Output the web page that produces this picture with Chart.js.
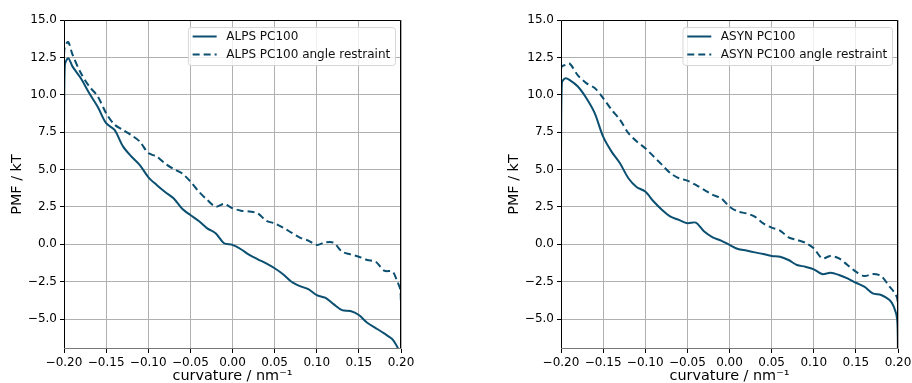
<!DOCTYPE html>
<html>
<head>
<meta charset="utf-8">
<script src="https://cdn.jsdelivr.net/npm/chart.js@4.4.1/dist/chart.umd.min.js"></script>
<style>
  html, body { margin: 0; padding: 0; background: #fff; }
  #wrap { position: relative; width: 912px; height: 383px; }
  #wrap canvas { position: absolute; left: 0; top: 0; }
</style>
</head>
<body>
<div id="wrap">
  <canvas id="alps" width="912" height="383"></canvas>
  <canvas id="asyn" width="912" height="383"></canvas>
</div>
<script>
// curvature grid (nm^-1)
const curvature = [-0.2, -0.199, -0.195, -0.19, -0.18, -0.17, -0.16, -0.15, -0.14, -0.13, -0.12, -0.11,
  -0.10, -0.09, -0.08, -0.07, -0.06, -0.05, -0.04, -0.03, -0.02, -0.01, 0.00,
  0.01, 0.02, 0.03, 0.04, 0.05, 0.06, 0.07, 0.08, 0.09, 0.10, 0.11, 0.12, 0.13,
  0.14, 0.15, 0.16, 0.17, 0.18, 0.19, 0.195, 0.199, 0.2];

const alpsPMF = [7.7, 12.0, 12.45, 11.9, 11.1, 10.1, 9.2, 8.1, 7.65, 6.55, 5.87, 5.3,
  4.5, 3.97, 3.5, 3.08, 2.4, 1.96, 1.56, 1.07, 0.74, 0.07, -0.04,
  -0.33, -0.71, -1.0, -1.27, -1.6, -2.0, -2.5, -2.79, -3.0, -3.4, -3.57, -4.0, -4.4,
  -4.46, -4.73, -5.25, -5.6, -5.96, -6.36, -6.8, -7.3, -7.6];
const alpsRestraint = [12.7, 13.2, 13.53, 12.7, 11.45, 10.56, 9.9, 8.77, 8.0, 7.65, 7.3, 6.87,
  6.1, 5.87, 5.4, 5.04, 4.75, 4.2, 3.53, 2.97, 2.52, 2.7, 2.41,
  2.25, 2.19, 2.07, 1.58, 1.4, 1.12, 0.78, 0.45, 0.25, -0.04, 0.13, 0.11, -0.49,
  -0.67, -0.83, -1.05, -1.16, -1.76, -1.83, -2.4, -3.0, -4.0];

const asynPMF = [6.0, 10.8, 11.1, 11.0, 10.55, 9.78, 8.77, 7.2, 6.2, 5.42, 4.42, 3.82,
  3.53, 2.86, 2.3, 1.85, 1.63, 1.41, 1.45, 0.85, 0.47, 0.25, -0.04,
  -0.31, -0.42, -0.54, -0.65, -0.78, -0.83, -1.05, -1.38, -1.5, -1.67, -1.99, -1.9, -2.05,
  -2.28, -2.57, -2.83, -3.28, -3.39, -3.73, -4.17, -5.0, -7.5];
const asynRestraint = [11.7, 11.9, 12.0, 12.1, 11.3, 10.78, 10.45, 9.78, 9.0, 8.33, 7.43, 6.87,
  6.43, 5.87, 5.31, 4.75, 4.42, 4.26, 3.97, 3.64, 3.3, 3.08, 2.52,
  2.19, 2.07, 1.85, 1.4, 1.12, 0.92, 0.47, 0.29, 0.11, -0.27, -0.94, -0.78, -0.94,
  -1.38, -1.83, -2.12, -1.99, -2.12, -2.83, -3.17, -3.6, -4.2];

const xTicks = [-0.2, -0.15, -0.1, -0.05, 0, 0.05, 0.1, 0.15, 0.2];
const yTicks = [-5, -2.5, 0, 2.5, 5, 7.5, 10, 12.5, 15];

const lineColor = '#0b4f71';
const fontFamily = "'DejaVu Sans', sans-serif";

function fmt(v, digits) {
  const s = Math.abs(v).toFixed(digits);
  return (v < -1e-9 ? '\u2212' : '') + s;
}

function points(ys) {
  return curvature.map((x, i) => ({ x: x, y: ys[i] }));
}

// black frame around the axes + matplotlib-like legend box
const framePlugin = {
  id: 'frame',
  afterDatasetsDraw(chart) {
    const { ctx, chartArea: a } = chart;
    ctx.save();
    ctx.lineWidth = 1;
    ctx.strokeStyle = '#000';
    ctx.beginPath();
    ctx.moveTo(a.left + 0.5, a.bottom);
    ctx.lineTo(a.left + 0.5, a.top + 0.5);
    ctx.lineTo(a.right - 0.5, a.top + 0.5);
    ctx.lineTo(a.right - 0.5, a.bottom);
    ctx.stroke();
    ctx.strokeStyle = '#777';
    ctx.beginPath();
    ctx.moveTo(a.left, a.bottom - 0.5);
    ctx.lineTo(a.right, a.bottom - 0.5);
    ctx.stroke();
    ctx.restore();
  },
  afterDraw(chart) {
    const { ctx, chartArea: a } = chart;
    const sets = chart.data.datasets;
    ctx.save();
    ctx.font = '12px ' + fontFamily;
    const textW = Math.max(...sets.map(d => ctx.measureText(d.label).width));
    const w = 4.8 + 24 + 9.6 + textW + 4.8;
    const h = 38;
    const x0 = a.right - 6 - w;
    const y0 = a.top + 7;
    ctx.beginPath();
    ctx.roundRect(x0 + 0.5, y0 + 0.5, w, h, 3);
    ctx.fillStyle = 'rgba(255,255,255,0.8)';
    ctx.fill();
    ctx.strokeStyle = '#d6d6d6';
    ctx.lineWidth = 1;
    ctx.stroke();
    sets.forEach((d, i) => {
      const cy = y0 + 9.5 + i * 18;
      ctx.strokeStyle = d.borderColor;
      ctx.lineWidth = d.borderWidth;
      ctx.setLineDash(d.borderDash || []);
      ctx.beginPath();
      ctx.moveTo(x0 + 4.8, cy);
      ctx.lineTo(x0 + 28.8, cy);
      ctx.stroke();
      ctx.setLineDash([]);
      ctx.fillStyle = '#111';
      ctx.textBaseline = 'middle';
      ctx.fillText(d.label, x0 + 38.4, cy);
    });
    ctx.restore();
  }
};

function makeChart(id, labels, solid, dashed, padLeft, padRight) {
  return new Chart(document.getElementById(id), {
    type: 'line',
    data: {
      datasets: [
        {
          label: labels[0],
          data: points(solid),
          borderColor: lineColor,
          borderWidth: 2,
          pointRadius: 0,
          tension: 0.3,
          fill: false
        },
        {
          label: labels[1],
          data: points(dashed),
          borderColor: lineColor,
          borderWidth: 2,
          borderDash: [7, 4],
          pointRadius: 0,
          tension: 0.3,
          fill: false
        }
      ]
    },
    options: {
      responsive: false,
      animation: false,
      events: [],
      layout: { padding: { left: padLeft, right: padRight, top: 20, bottom: 0 } },
      plugins: { legend: { display: false }, tooltip: { enabled: false } },
      scales: {
        x: {
          type: 'linear',
          min: -0.2,
          max: 0.2,
          afterBuildTicks: s => { s.ticks = xTicks.map(v => ({ value: v })); },
          afterFit: s => { s.height = 34; s.paddingLeft = 0; s.paddingRight = 0; },
          grid: { color: '#b0b0b0', lineWidth: 1, tickColor: '#000', tickLength: 4 },
          border: { display: false },
          ticks: {
            maxRotation: 0,
            padding: 3,
            color: '#000',
            font: { family: fontFamily, size: 12 },
            callback: v => fmt(v, 2)
          },
          title: {
            display: true,
            text: 'curvature / nm\u207B\u00B9',
            color: '#000',
            font: { family: fontFamily, size: 14.4, lineHeight: 1 },
            padding: { top: 0, bottom: 0 }
          }
        },
        y: {
          min: -7,
          max: 15,
          afterBuildTicks: s => { s.ticks = yTicks.map(v => ({ value: v })); },
          afterFit: s => { s.width = 64; s.paddingTop = 0; s.paddingBottom = 0; },
          grid: { color: '#b0b0b0', lineWidth: 1, tickColor: '#000', tickLength: 4 },
          border: { display: false },
          ticks: {
            padding: 3,
            color: '#000',
            font: { family: fontFamily, size: 12 },
            callback: v => fmt(v, 1)
          },
          title: {
            display: true,
            text: 'PMF / kT',
            color: '#000',
            font: { family: fontFamily, size: 14.4, lineHeight: 1.2 },
            padding: { top: 9, bottom: 0 }
          }
        }
      }
    },
    plugins: [framePlugin]
  });
}

makeChart('alps', ['ALPS PC100', 'ALPS PC100 angle restraint'], alpsPMF, alpsRestraint, 0, 511);
makeChart('asyn', ['ASYN PC100', 'ASYN PC100 angle restraint'], asynPMF, asynRestraint, 497, 14);
</script>
</body>
</html>
